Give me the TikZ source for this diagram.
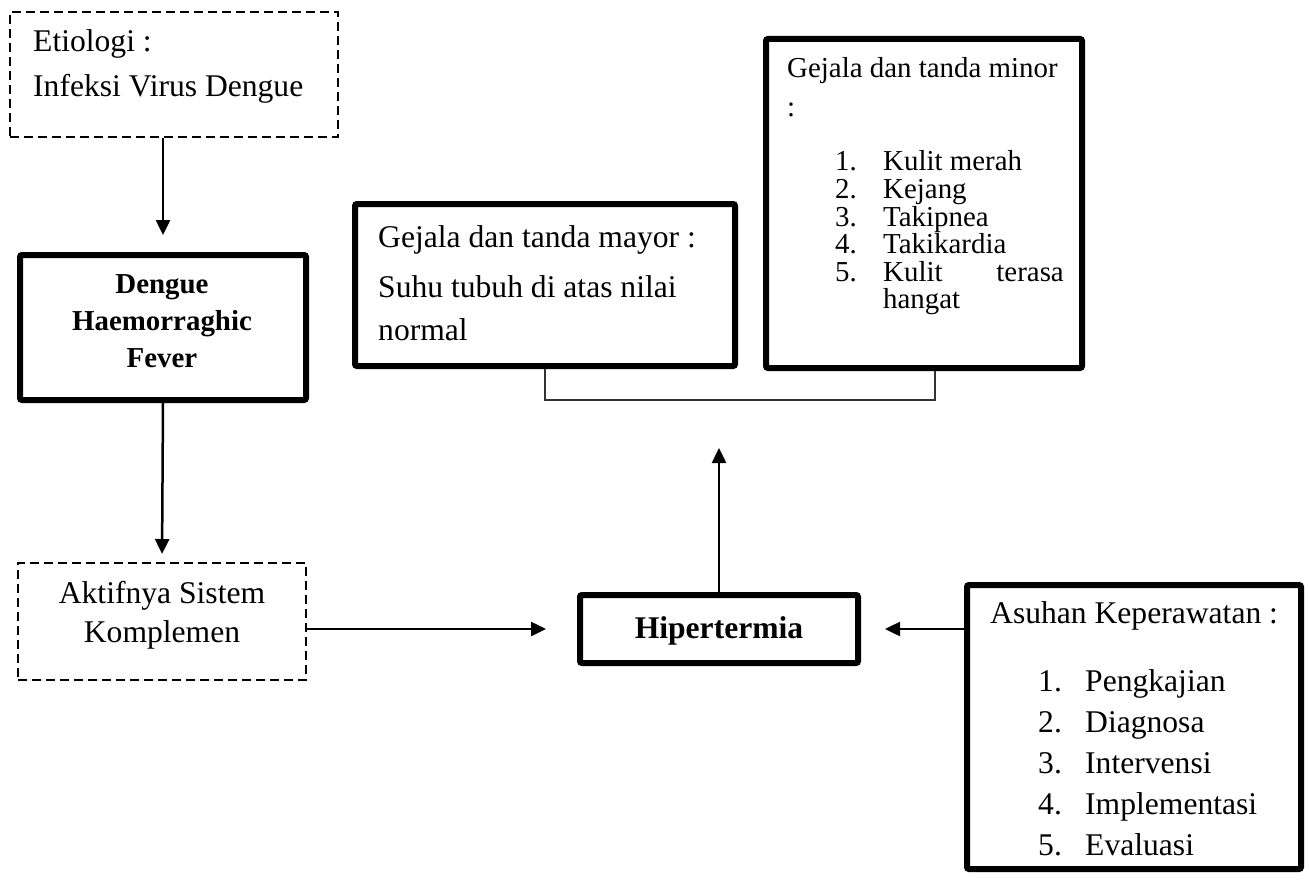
\documentclass[tikz,border=0pt]{standalone}
\usepackage{fontspec}
\setmainfont{Liberation Serif}
\usetikzlibrary{arrows.meta}
\begin{document}
\begin{tikzpicture}[x=1pt,y=-1pt,
  thickbox/.style={draw, line width=6pt, rounded corners=2pt, inner sep=0pt},
  dashbox/.style={draw, line width=2pt, dash pattern=on 9pt off 5pt, inner sep=0pt},
  arr/.style={line width=2.5pt, -{Triangle[length=15pt,width=14pt]}},
  bracket/.style={line width=1.2pt, draw=black!80},
  txt/.style={inner sep=0pt, anchor=base west, font=\fontsize{31.6}{36}\selectfont},
  txtc/.style={inner sep=0pt, anchor=base, font=\fontsize{31.6}{36}\selectfont},
  txtb/.style={inner sep=0pt, anchor=base, font=\fontsize{28.9}{34}\selectfont\bfseries},
  txts/.style={inner sep=0pt, anchor=base west, font=\fontsize{28.9}{32}\selectfont},
  txtse/.style={inner sep=0pt, anchor=base east, font=\fontsize{28.9}{32}\selectfont}
]
\useasboundingbox (0,0) rectangle (1309,880);

% boxes
\node[dashbox, minimum width=328pt, minimum height=125pt] (etio) at (174,74.5) {};
\node[thickbox, minimum width=286pt, minimum height=145pt] (dhf) at (163,327.5) {};
\node[dashbox, minimum width=288pt, minimum height=117pt] (akt) at (162,621.5) {};
\node[thickbox, minimum width=278pt, minimum height=68pt] (hip) at (719,629) {};
\node[thickbox, minimum width=334pt, minimum height=284pt] (asu) at (1134,727) {};
\node[thickbox, minimum width=380pt, minimum height=162pt] (may) at (545,285) {};
\node[thickbox, minimum width=316pt, minimum height=329pt] (min) at (924,203.5) {};

% texts
\node[txt] (etio1) at (33,52) {Etiologi :};
\node[txt] (etio2) at (33,97) {Infeksi Virus Dengue};

\node[txtb] (dhf1) at (162,293) {Dengue};
\node[txtb] (dhf2) at (162,330) {Haemorraghic};
\node[txtb] (dhf3) at (162,367) {Fever};

\node[txtc] (akt1) at (162,603) {Aktifnya Sistem};
\node[txtc] (akt2) at (162,642) {Komplemen};

\node[txtc, font=\fontsize{31.6}{36}\selectfont\bfseries] (hip1) at (719,638) {Hipertermia};

\node[txt] (asu0) at (990,623) {Asuhan Keperawatan :};
\foreach \n/\t/\yy in {1/Pengkajian/691, 2/Diagnosa/732, 3/Intervensi/773, 4/Implementasi/814, 5/Evaluasi/855}{
  \node[txt] (asuN\n) at (1038,\yy) {\n.};
  \node[txt] (asuT\n) at (1085,\yy) {\t};
}

\node[txt] (may1) at (378,247) {Gejala dan tanda mayor :};
\node[txt] (may2) at (378,297) {Suhu tubuh di atas nilai};
\node[txt] (may3) at (378,340) {normal};

\node[txts] (min0) at (787,78) {Gejala dan tanda minor};
\node[txts] (min0b) at (787,117) {:};
\foreach \n/\t/\yy in {1/Kulit merah/171, 2/Kejang/198.5, 3/Takipnea/226, 4/Takikardia/253.5, 5/Kulit/281}{
  \node[txts] (minN\n) at (835,\yy) {\n.};
  \node[txts] (minT\n) at (883,\yy) {\t};
}
\node[txtse] (minT5b) at (1064,281) {terasa};
\node[txts] (minT6) at (883,308.5) {hangat};

% bracket
\coordinate (bl) at (545,400);
\coordinate (br) at (935,400);
\draw[bracket] (may.south) -- (bl) -- (br) -- (br |- min.south);

% connectors
\draw[arr, shorten >=17pt] (dhf.north |- etio.south) -- (dhf.north);
\draw[arr, shorten >=8pt] (dhf.south) -- (akt.north);
\draw[arr, shorten >=31pt] (akt.east |- hip.west) -- (hip.west);
\draw[arr, shorten >=48pt] (hip.north) -- (hip.north |- bl);
\draw[arr, shorten >=24pt] (asu.west |- hip.east) -- (hip.east);
\end{tikzpicture}
\end{document}
